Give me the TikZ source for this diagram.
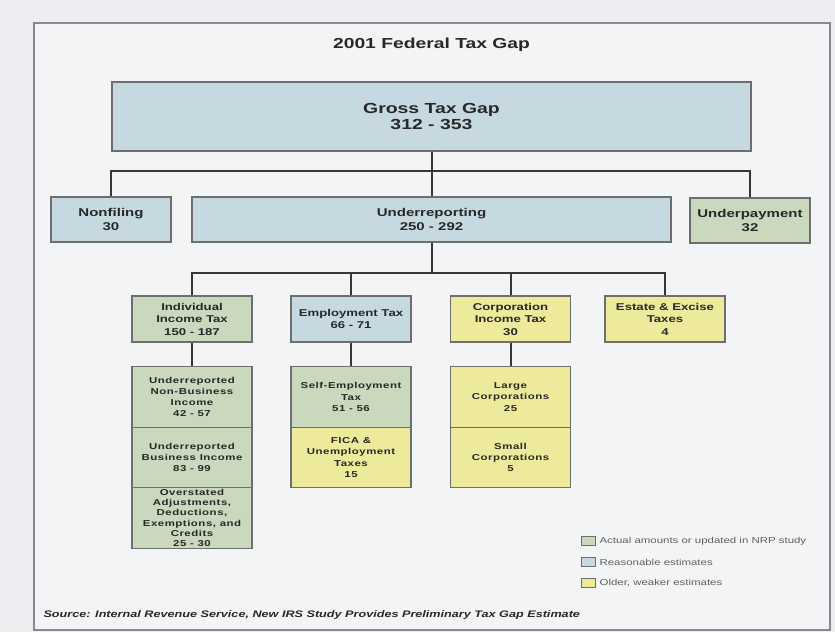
\documentclass[tikz,border=0pt]{standalone}
\usepackage{fontspec}
\setmainfont{Liberation Sans}[FakeStretch=1.33]
\usetikzlibrary{positioning}

\definecolor{pagebg}{RGB}{236,238,241}
\definecolor{framebg}{RGB}{243,244,246}
\definecolor{framecol}{RGB}{140,135,148}
\definecolor{boxline}{RGB}{110,110,110}
\definecolor{linkcol}{RGB}{55,55,55}
\definecolor{inkcol}{RGB}{40,40,40}
\definecolor{legendink}{RGB}{95,95,95}
\definecolor{estblue}{RGB}{198,217,224}
\definecolor{nrpgreen}{RGB}{202,216,190}
\definecolor{oldyellow}{RGB}{238,234,156}

\newcommand\titlefont{\fontsize{14.5}{17}\selectfont\bfseries}
\newcommand\grossfont{\fontsize{14.6}{16.8}\selectfont\bfseries}
\newcommand\lvltwofont{\fontsize{11.3}{14.3}\selectfont\bfseries}
\newcommand\lvlthreefont{\fontsize{9.9}{12.5}\selectfont\bfseries}
\newcommand\subfont{\fontsize{8.6}{11.2}\selectfont\bfseries\addfontfeature{LetterSpace=6}}
\newcommand\tightsubfont{\fontsize{8.6}{10.2}\selectfont\bfseries\addfontfeature{LetterSpace=6}}
\newcommand\legfont{\fontsize{8.6}{10}\selectfont}
\newcommand\srcfont{\fontsize{9.5}{12}\selectfont\bfseries\itshape}

\tikzset{
      gapbox/.style={draw=boxline, line width=1.1pt, align=center, inner sep=1pt, text=inkcol},
      bluebox/.style={gapbox, fill=estblue},
      greenbox/.style={gapbox, fill=nrpgreen},
      yellowbox/.style={gapbox, fill=oldyellow},
      lvltwo/.style={minimum width=120pt, minimum height=45pt, font=\lvltwofont},
      lvlthree/.style={minimum width=120pt, minimum height=46pt, font=\lvlthreefont},
      subbox/.style={minimum width=120pt, minimum height=60.5pt, font=\subfont},
      link/.style={draw=linkcol, line width=2pt},
      legsq/.style={draw=boxline, line width=0.8pt, minimum width=14pt, minimum height=9pt, inner sep=0pt},
      legtext/.style={font=\legfont, text=legendink, inner sep=1pt},
}

\begin{document}
\begin{tikzpicture}[x=1pt, y=-1pt]
        \useasboundingbox (0,0) rectangle (835,632);
        \fill[pagebg] (0,0) rectangle (835,632);
        \filldraw[fill=framebg, draw=framecol, line width=1.4pt] (34,23) rectangle (830,630);

        \node[font=\titlefont, text=inkcol] (title) at (431.5,45) {2001 Federal Tax Gap};

        % Top of the tree
        \node[bluebox, minimum width=639pt, minimum height=69pt, font=\grossfont] (gross) at (431.5,116.5) {Gross Tax Gap\\312 - 353};

        \node[bluebox, lvltwo] (nonfil) at (111,219.5) {Nonfiling\\30};
        \node[bluebox, lvltwo, minimum width=479pt] (underrep) at (431.5,219.5) {Underreporting\\250 - 292};
        \node[greenbox, lvltwo] (underpay) at (750,220.5) {Underpayment\\32};

        \coordinate (bus) at (431.5,171);
        \draw[link] (gross.south) -- (underrep.north);
        \draw[link] (nonfil.north) |- (bus) -| (underpay.north);

        % Underreporting split
        \node[greenbox, lvlthree] (indiv) at (192,319) {Individual\\Income Tax\\150 - 187};
        \node[bluebox, lvlthree] (employ) at (351,319) {Employment Tax\\66 - 71};
        \node[yellowbox, lvlthree] (corp) at (510.5,319) {Corporation\\Income Tax\\30};
        \node[yellowbox, lvlthree] (estate) at (665,319) {Estate \& Excise\\Taxes\\4};

        \coordinate (bustwo) at (431.5,273);
        \draw[link] (underrep.south) -- (bustwo);
        \draw[link] (indiv.north) |- (bustwo) -| (estate.north);
        \draw[link] (employ.north) -- (employ.north |- bustwo);
        \draw[link] (corp.north) -- (corp.north |- bustwo);

        % Columns of components
        \node[greenbox, subbox] (nonbiz) at (192,397) {Underreported\\Non-Business\\Income\\42 - 57};
        \node[greenbox, subbox] (bizinc) at (192,457.5) {Underreported\\Business Income\\83 - 99};
        \node[greenbox, subbox, font=\tightsubfont] (overst) at (192,518) {Overstated\\Adjustments,\\Deductions,\\Exemptions, and\\Credits\\25 - 30};

        \node[greenbox, subbox] (selfemp) at (351,397) {Self-Employment\\Tax\\51 - 56};
        \node[yellowbox, subbox] (fica) at (351,457.5) {FICA \&\\Unemployment\\Taxes\\15};

        \node[yellowbox, subbox] (large) at (510.5,397) {Large\\Corporations\\25};
        \node[yellowbox, subbox] (small) at (510.5,457.5) {Small\\Corporations\\5};

        \draw[link] (indiv.south) -- (nonbiz.north);
        \draw[link] (employ.south) -- (selfemp.north);
        \draw[link] (corp.south) -- (large.north);

        % Key
        \node[legsq, fill=nrpgreen] (keyone) at (588,541) {};
        \node[legtext, right=3pt of keyone] (keyonetext) {Actual amounts or updated in NRP study};
        \node[legsq, fill=estblue] (keytwo) at (588,562) {};
        \node[legtext, right=3pt of keytwo] (keytwotext) {Reasonable estimates};
        \node[legsq, fill=oldyellow] (keythree) at (588,583) {};
        \node[legtext, right=3pt of keythree] (keythreetext) {Older, weaker estimates};

        \node[font=\srcfont, text=inkcol, anchor=west] (source) at (40,615) {Source: Internal Revenue Service, New IRS Study Provides Preliminary Tax Gap Estimate};

\end{tikzpicture}
\end{document}
